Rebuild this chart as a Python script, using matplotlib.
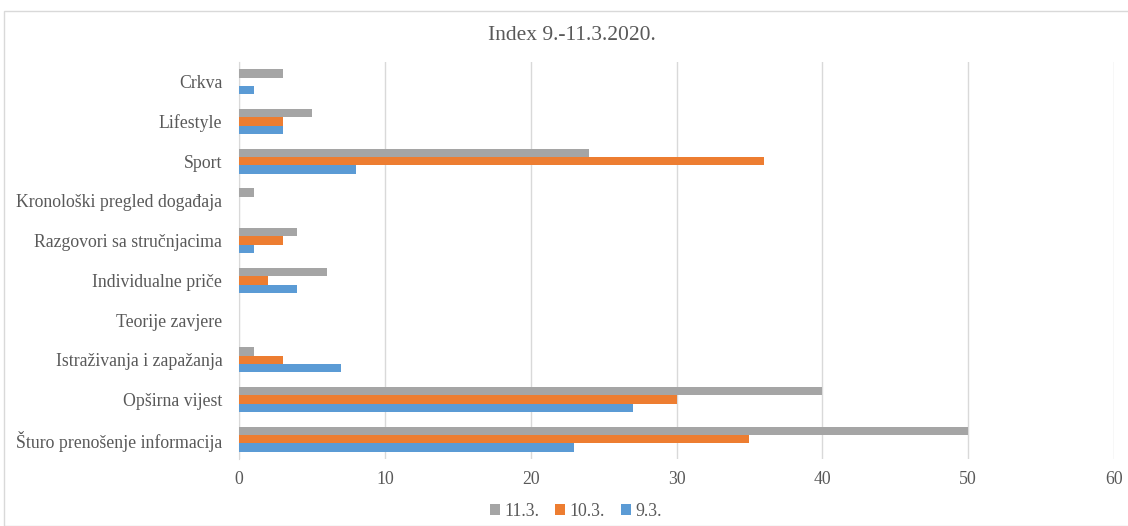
import matplotlib
matplotlib.use("Agg")
import matplotlib.pyplot as plt
from matplotlib.patches import Rectangle
import numpy as np

categories = ["Šturo prenošenje informacija", "Opširna vijest", "Istraživanja i zapažanja",
              "Teorije zavjere", "Individualne priče", "Razgovori sa stručnjacima",
              "Kronološki pregled događaja", "Sport", "Lifestyle", "Crkva"]
s_93 = [23, 27, 7, 0, 4, 1, 0, 8, 3, 1]
s_103 = [35, 30, 3, 0, 2, 3, 0, 36, 3, 0]
s_113 = [50, 40, 1, 0, 6, 4, 1, 24, 5, 3]
series_names = ["9.3.", "10.3.", "11.3."]
xticks = [0, 10, 20, 30, 40, 50, 60]

plt.rcParams['font.family'] = ['Liberation Serif', 'DejaVu Serif']
txt = '#595959'

fig = plt.figure(figsize=(11.28, 5.26), dpi=100)
fig.patches.append(Rectangle((4/1128, 0), 1.0, 1 - 11/526, transform=fig.transFigure,
                             fill=False, edgecolor='#D9D9D9', linewidth=1.0))
ax = fig.add_axes([239/1128, 1 - 459/526, (1114 - 239)/1128, (459 - 62)/526])

y = np.arange(len(categories))
h = 0.21
b1 = ax.barh(y - h, s_93, height=h, color='#5B9BD5', label=series_names[0], zorder=3)
b2 = ax.barh(y, s_103, height=h, color='#ED7D31', label=series_names[1], zorder=3)
b3 = ax.barh(y + h, s_113, height=h, color='#A5A5A5', label=series_names[2], zorder=3)

ax.set_ylim(-0.5, len(categories) - 0.5)
ax.set_xlim(0, 60)
ax.set_xticks(xticks)
ax.set_yticks(y)
ax.set_yticklabels(categories)
ax.tick_params(axis='both', length=0, labelsize=12.8, labelcolor=txt)
ax.tick_params(axis='x', pad=9)
ax.tick_params(axis='y', pad=12)
ax.grid(axis='x', color='#D9D9D9', linewidth=1, zorder=0)
for s in ['top', 'right', 'bottom']:
    ax.spines[s].set_visible(False)
ax.spines['left'].set_color('#D9D9D9')

fig.text(572/1128, 1 - 36/526, "Index 9.-11.3.2020.", ha='center', va='center', fontsize=15.5, color=txt)

leg = fig.legend(handles=[b3, b2, b1], labels=[series_names[2], series_names[1], series_names[0]],
                 loc='center', bbox_to_anchor=(576/1128, 1 - 511/526), ncol=3, frameon=False,
                 fontsize=12.8, handlelength=0.55, handleheight=0.55, handletextpad=0.25,
                 columnspacing=0.9, labelcolor=txt)

fig.savefig("out.png", dpi=100)
